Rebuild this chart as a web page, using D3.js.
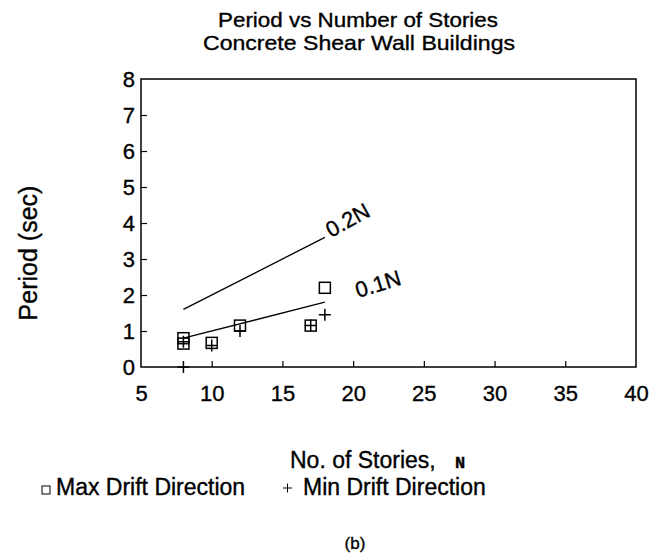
<!DOCTYPE html>
<html>
<head>
<meta charset="utf-8">
<script src="https://cdn.jsdelivr.net/npm/d3@7"></script>
<style>
  body { margin: 0; background: #fff; }
  text { font-family: "Liberation Sans", Arial, sans-serif; fill: #000; stroke: #000; stroke-width: 0.35px; }
</style>
</head>
<body>
<svg id="chart" width="663" height="559"></svg>
<script>
// data
var storiesMax = [8, 8, 10, 12, 17, 18];
var periodMax  = [0.8, 0.65, 0.67, 1.15, 1.15, 2.2];
var storiesMin = [8, 8, 10, 12, 17, 18];
var periodMin  = [0.0, 0.7, 0.6, 1.0, 1.15, 1.45];
var codeCoefs  = [0.2, 0.1];
var codeLabels = ["0.2N", "0.1N"];
var codeRange  = [8, 18];
var xTicks = [5, 10, 15, 20, 25, 30, 35, 40];
var yTicks = [0, 1, 2, 3, 4, 5, 6, 7, 8];

var svg = d3.select("#chart");

var x = d3.scaleLinear().domain([5, 40]).range([141, 636]);
var y = d3.scaleLinear().domain([0, 8]).range([367, 79]);

// title (the original face is a bit condensed)
svg.append("text")
  .attr("x", 358).attr("y", 26.5)
  .attr("text-anchor", "middle")
  .attr("font-size", 21)
  .attr("textLength", 280).attr("lengthAdjust", "spacingAndGlyphs")
  .text("Period vs Number of Stories");
svg.append("text")
  .attr("x", 359).attr("y", 50)
  .attr("text-anchor", "middle")
  .attr("font-size", 21)
  .attr("textLength", 312).attr("lengthAdjust", "spacingAndGlyphs")
  .text("Concrete Shear Wall Buildings");

// frame
svg.append("rect")
  .attr("x", x(5)).attr("y", y(8))
  .attr("width", x(40) - x(5)).attr("height", y(0) - y(8))
  .attr("fill", "none").attr("stroke", "#000").attr("stroke-width", 1.5);

// axes with inward ticks
var xAxis = svg.append("g")
  .attr("transform", "translate(0," + y(0) + ")")
  .call(d3.axisBottom(x).tickValues(xTicks).tickSizeInner(-6).tickSizeOuter(0).tickPadding(12));
var yAxis = svg.append("g")
  .attr("transform", "translate(" + x(5) + ",0)")
  .call(d3.axisLeft(y).tickValues(yTicks).tickSizeInner(-6).tickSizeOuter(0).tickPadding(6));

[xAxis, yAxis].forEach(function(a) {
  a.select(".domain").remove();
  a.selectAll("line").attr("stroke", "#000").attr("stroke-width", 1.2);
  a.selectAll("text").attr("font-size", 22).attr("font-family", "Liberation Sans, Arial, sans-serif");
});
xAxis.selectAll("text").attr("dy", "1.0em");
yAxis.selectAll("text").attr("dy", "0.36em");
// corner ticks sit on the frame
xAxis.selectAll(".tick line").filter(function(d) { return d === 5 || d === 40; }).remove();
yAxis.selectAll(".tick line").filter(function(d) { return d === 0 || d === 8; }).remove();

// axis titles
svg.append("text")
  .attr("transform", "translate(37,253) rotate(-90)")
  .attr("text-anchor", "middle")
  .attr("font-size", 25)
  .text("Period (sec)");

var xl = svg.append("text")
  .attr("x", 290).attr("y", 468)
  .attr("font-size", 23);
xl.append("tspan").text("No. of Stories,");
xl.append("tspan")
  .attr("x", 455)
  .attr("font-family", "Liberation Mono, Courier New, monospace")
  .attr("font-weight", "bold")
  .attr("font-size", 17)
  .text("N");

// code lines
var line = d3.line().x(function(d) { return x(d[0]); }).y(function(d) { return y(d[1]); });
codeCoefs.forEach(function(c) {
  svg.append("path")
    .datum(codeRange.map(function(n) { return [n, c * n]; }))
    .attr("d", line)
    .attr("fill", "none").attr("stroke", "#000").attr("stroke-width", 1.3);
});
var labelPos = [[331, 238, -29], [358, 298, -17]];
codeLabels.forEach(function(t, i) {
  svg.append("text")
    .attr("transform", "translate(" + labelPos[i][0] + "," + labelPos[i][1] + ") rotate(" + labelPos[i][2] + ")")
    .attr("font-size", 22)
    .text(t);
});

// markers
var sq = 11, cr = 12;
svg.append("g").selectAll("rect")
  .data(d3.zip(storiesMax, periodMax))
  .enter().append("rect")
    .attr("x", function(d) { return x(d[0]) - sq / 2; })
    .attr("y", function(d) { return y(d[1]) - sq / 2; })
    .attr("width", sq).attr("height", sq)
    .attr("fill", "none").attr("stroke", "#000").attr("stroke-width", 1.5);

svg.append("g").selectAll("path")
  .data(d3.zip(storiesMin, periodMin))
  .enter().append("path")
    .attr("d", function(d) {
      var cx = x(d[0]), cy = y(d[1]);
      return "M" + (cx - cr / 2) + "," + cy + "H" + (cx + cr / 2) +
             "M" + cx + "," + (cy - cr / 2) + "V" + (cy + cr / 2);
    })
    .attr("stroke", "#000").attr("stroke-width", 1.5);

// legend
var lg = svg.append("g");
lg.append("rect").attr("x", 42).attr("y", 486).attr("width", 8).attr("height", 8)
  .attr("fill", "none").attr("stroke", "#000").attr("stroke-width", 1);
lg.append("text").attr("x", 56).attr("y", 495).attr("font-size", 23).text("Max Drift Direction");
lg.append("path").attr("d", "M283,488H292M287.5,483.5V492.5").attr("stroke", "#000").attr("stroke-width", 1);
lg.append("text").attr("x", 303).attr("y", 495).attr("font-size", 23).text("Min Drift Direction");

svg.append("text")
  .attr("x", 355).attr("y", 549)
  .attr("text-anchor", "middle")
  .attr("font-family", "Liberation Mono, Courier New, monospace")
  .attr("font-size", 17)
  .attr("stroke-width", 0)
  .text("(b)");
</script>
</body>
</html>
